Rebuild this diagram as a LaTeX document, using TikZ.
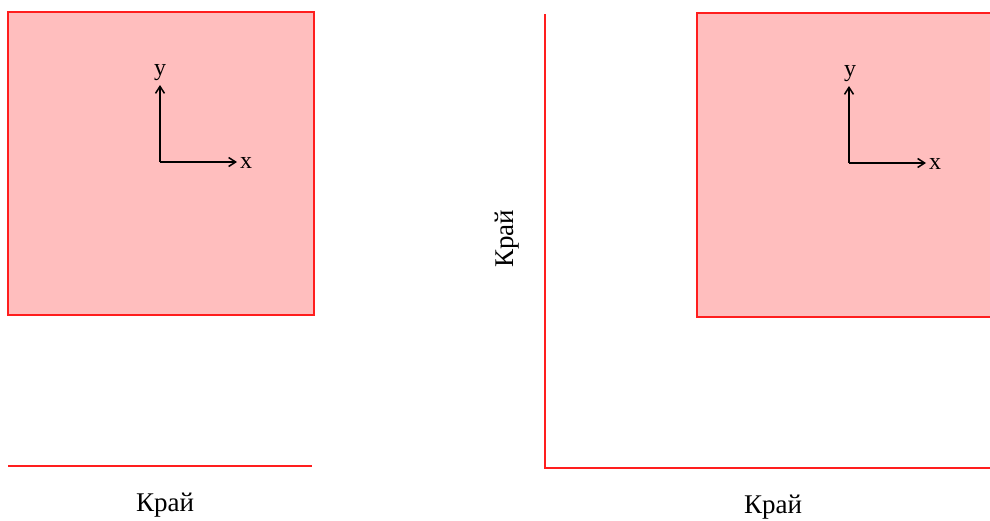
\documentclass[tikz,border=0pt]{standalone}
\usepackage{fontspec}
\setmainfont{Liberation Serif}
\usetikzlibrary{arrows.meta}
\definecolor{edgered}{RGB}{255,30,30}
\definecolor{boxfill}{RGB}{255,190,190}
\tikzset{
  px/.style={x=1pt,y=-1pt},
  region/.style={draw=edgered,line width=2pt,fill=boxfill},
  edgeline/.style={draw=edgered,line width=2pt},
  axis/.style={draw=black,line width=2pt,-{Straight Barb[length=7pt,width=9pt,line width=1.5pt]}},
  lbl/.style={inner sep=0pt,font=\fontsize{27}{27}\selectfont},
  axlbl/.style={inner sep=0pt,font=\fontsize{24}{24}\selectfont},
}
\begin{document}
\begin{tikzpicture}[px]
\useasboundingbox (0,0) rectangle (990,520);
% left
\path[region] (8,12) rectangle (314,315);
\coordinate (lo) at (160,162);
\coordinate (ly) at (160,85);
\coordinate (lx) at (237,162);
\draw[axis] (lo) -- (ly);
\draw[axis] (lo) -- (lx);
\node[axlbl] (lyl) at (160,73) {y};
\node[axlbl] (lxl) at (246,163) {x};
\coordinate (le1) at (8,466);
\coordinate (le2) at (312,466);
\draw[edgeline] (le1) -- (le2);
\node[lbl] (lk) at (165,505) {Край};
% right
\path[region] (697,13) rectangle (995,317);
\coordinate (ro) at (849,163);
\coordinate (ry) at (849,86);
\coordinate (rx) at (926,163);
\draw[axis] (ro) -- (ry);
\draw[axis] (ro) -- (rx);
\node[axlbl] (ryl) at (850,74) {y};
\node[axlbl] (rxl) at (935,164) {x};
\coordinate (rv1) at (545,14);
\coordinate (rc) at (545,468);
\coordinate (rh2) at (995,468);
\draw[edgeline] (rv1) -- (rc) -- (rh2);
\node[lbl,rotate=90] (rkv) at (507,239) {Край};
\node[lbl] (rk) at (773,507) {Край};
\end{tikzpicture}
\end{document}
